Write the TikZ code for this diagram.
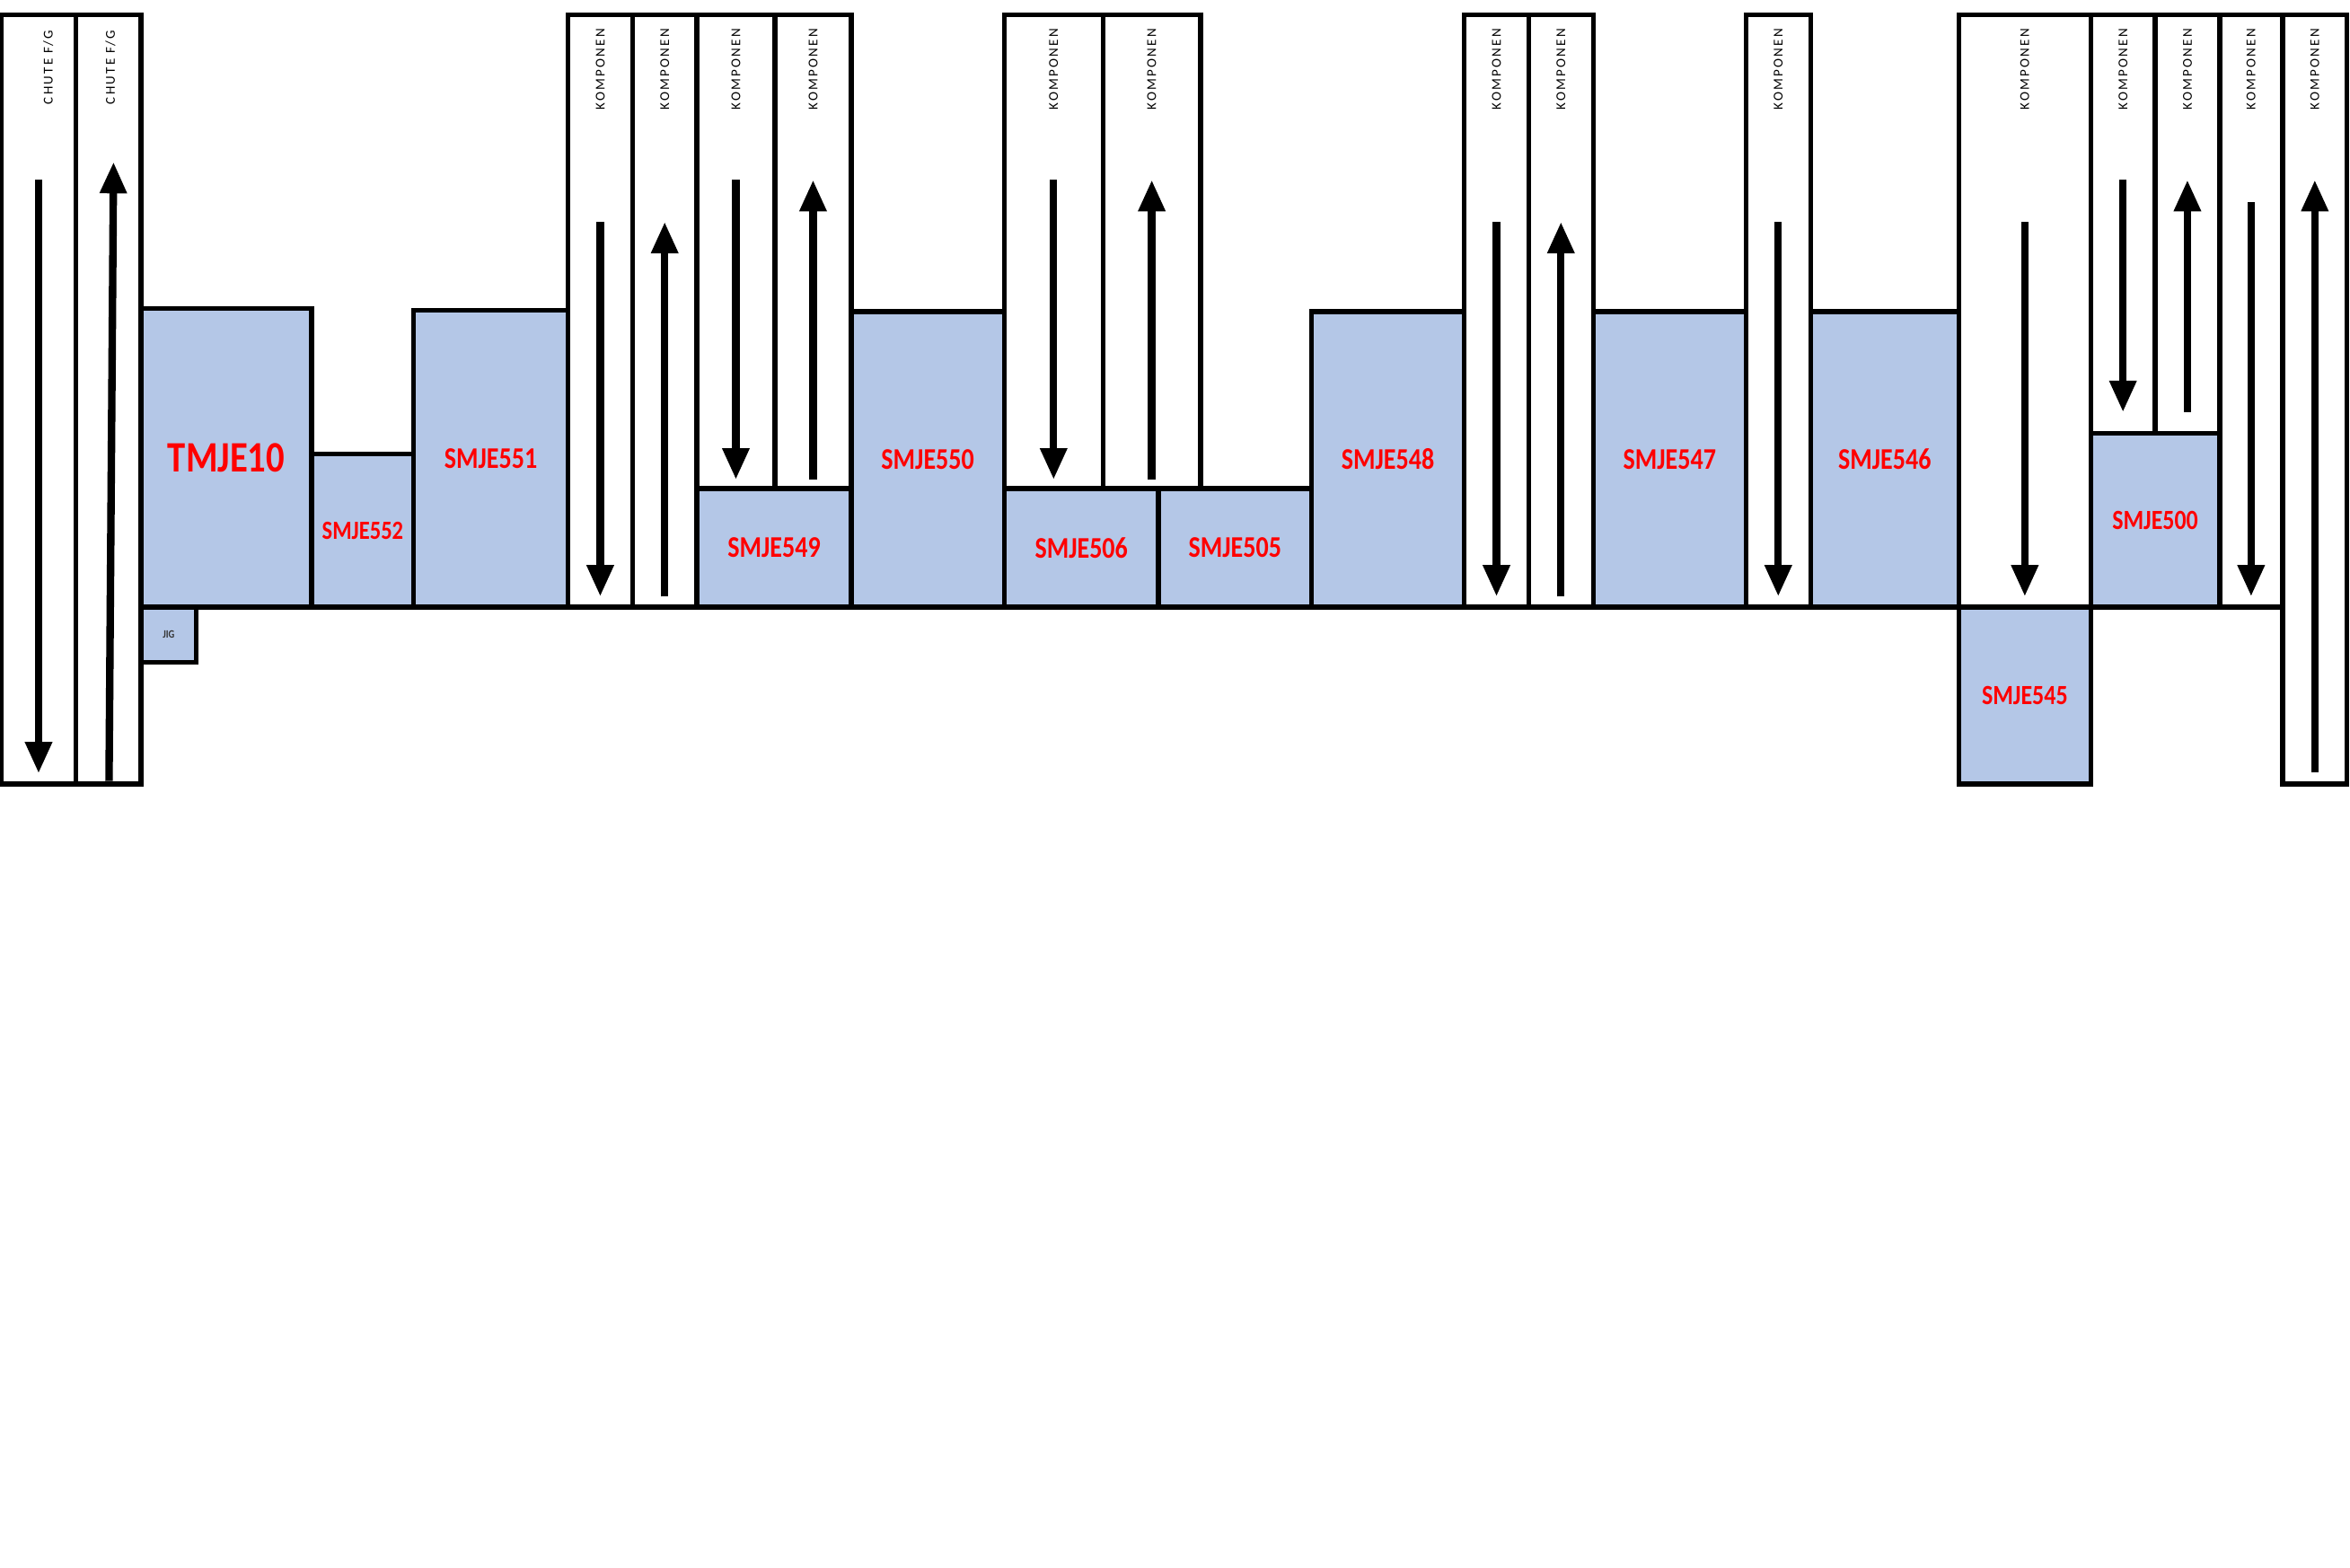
\documentclass[tikz,border=0pt]{standalone}
\usepackage{fontspec}
\setmainfont{Carlito}
\newfontfamily\lblfont[FakeStretch=0.84]{Carlito}
\newfontfamily\tagfont[LetterSpace=15]{Carlito}
\usetikzlibrary{arrows.meta}
\definecolor{stblue}{HTML}{B4C7E7}

\begin{document}
\begin{tikzpicture}[
    x=1pt,y=-1pt,
    lane/.style={draw,fill=white,line width=3.2pt,inner sep=0pt,outer sep=0pt,
                 anchor=north west},
    station/.style={lane,fill=stblue,text=red,
                    font=\lblfont\bfseries\fontsize{20}{20}\selectfont},
    smallst/.style={font=\lblfont\bfseries\fontsize{17.5}{17.5}\selectfont},
    tag/.style={rotate=90,anchor=east,inner sep=0pt,
                font=\tagfont\fontsize{9}{9}\selectfont},
    flow/.style={-{Triangle[length=21pt,width=17pt]},line width=5pt},
]
\useasboundingbox (0,0) rectangle (1568,1046);

% ---- chutes (left edge) ----
\node[lane,minimum width=49.5pt,minimum height=513pt] (ch1) at (1,10) {};
\node[lane,minimum width=43.5pt,minimum height=513pt] (ch2) at (50.5,10) {};
\node[tag] (tc1) at ([xshift=6.5pt,yshift=-10pt]ch1.north) {CHUTE F/G};
\node[tag] (tc2) at ([xshift=1.5pt,yshift=-10pt]ch2.north) {CHUTE F/G};
\draw[flow] ([yshift=-110pt]ch1.north) -- ([yshift=7pt]ch1.south);
\draw[flow] ([xshift=0.5pt,yshift=2pt]ch2.south) -- ([xshift=3.5pt,yshift=-98pt]ch2.north);

% ---- stations, left part ----
\node[station,font=\lblfont\bfseries\fontsize{29}{29}\selectfont,
      minimum width=114pt,minimum height=199pt] (tm10) at (94,206) {TMJE10};
\node[station,text=black!80,font=\lblfont\bfseries\fontsize{7.5}{7.5}\selectfont,
      minimum width=37pt,minimum height=37pt] (jig) at (94,405) {JIG};
\node[station,smallst,minimum width=68pt,minimum height=102pt] (s552) at (208,303) {SMJE552};
\node[station,minimum width=103pt,minimum height=198pt] (s551) at (276,207) {SMJE551};

% ---- komponen lanes 1-4 ----
\node[lane,minimum width=43pt,minimum height=395pt] (k1) at (379,10) {};
\node[lane,minimum width=43pt,minimum height=395pt] (k2) at (422,10) {};
\node[lane,minimum width=52pt,minimum height=316pt] (k3) at (465,10) {};
\node[lane,minimum width=51pt,minimum height=316pt] (k4) at (517,10) {};
\draw[flow] ([yshift=-138pt]k1.north) -- ([yshift=7pt]k1.south);
\draw[flow] ([yshift=7pt]k2.south) -- ([yshift=-138pt]k2.north);
\draw[flow] ([yshift=-110pt]k3.north) -- ([yshift=6pt]k3.south);
\draw[flow] ([yshift=6pt]k4.south) -- ([yshift=-110pt]k4.north);

\node[station,minimum width=103pt,minimum height=79pt] (s549) at (465,326) {SMJE549};
\node[station,minimum width=102pt,minimum height=197pt] (s550) at (568,208) {SMJE550};

% ---- komponen lanes 5-6 ----
\node[lane,minimum width=66pt,minimum height=316pt] (k5) at (670,10) {};
\node[lane,minimum width=65pt,minimum height=316pt] (k6) at (736,10) {};
\draw[flow] ([yshift=-110pt]k5.north) -- ([yshift=6pt]k5.south);
\draw[flow] ([yshift=6pt]k6.south) -- ([yshift=-110pt]k6.north);

\node[station,minimum width=103pt,minimum height=79pt] (s506) at (670,326) {SMJE506};
\node[station,minimum width=102pt,minimum height=79pt] (s505) at (773,326) {SMJE505};
\node[station,minimum width=102pt,minimum height=197pt] (s548) at (875,208) {SMJE548};

% ---- komponen lanes 7-9 ----
\node[lane,minimum width=43pt,minimum height=395pt] (k7) at (977,10) {};
\node[lane,minimum width=43pt,minimum height=395pt] (k8) at (1020,10) {};
\draw[flow] ([yshift=-138pt]k7.north) -- ([yshift=7pt]k7.south);
\draw[flow] ([yshift=7pt]k8.south) -- ([yshift=-138pt]k8.north);

\node[station,minimum width=102pt,minimum height=197pt] (s547) at (1063,208) {SMJE547};

\node[lane,minimum width=43pt,minimum height=395pt] (k9) at (1165,10) {};
\draw[flow] ([yshift=-138pt]k9.north) -- ([yshift=7pt]k9.south);

\node[station,minimum width=99pt,minimum height=197pt] (s546) at (1208,208) {SMJE546};

% ---- right part ----
\node[lane,minimum width=88pt,minimum height=395pt] (k10) at (1307,10) {};
\draw[flow] ([yshift=-138pt]k10.north) -- ([yshift=7pt]k10.south);
\node[station,smallst,font=\lblfont\bfseries\fontsize{18.5}{18.5}\selectfont,
      minimum width=88pt,minimum height=118pt] (s545) at (1307,405) {SMJE545};

\node[lane,minimum width=43pt,minimum height=279pt] (k11) at (1395,10) {};
\node[lane,minimum width=43pt,minimum height=279pt] (k12) at (1438,10) {};
\draw[flow] ([yshift=-110pt]k11.north) -- ([yshift=14pt]k11.south);
\draw[flow] ([yshift=14pt]k12.south) -- ([yshift=-110pt]k12.north);
\node[station,font=\lblfont\bfseries\fontsize{18.5}{18.5}\selectfont,
      minimum width=86pt,minimum height=116pt] (s500) at (1395,289) {SMJE500};

\node[lane,minimum width=42pt,minimum height=395pt] (k13) at (1481,10) {};
\draw[flow] ([yshift=-125pt]k13.north) -- ([yshift=7pt]k13.south);
\node[lane,minimum width=43pt,minimum height=513pt] (k14) at (1523,10) {};
\draw[flow] ([yshift=8pt]k14.south) -- ([yshift=-110pt]k14.north);

% ---- lane tags ----
\node[tag] (tk1)  at ([yshift=-9pt]k1.north)  {KOMPONEN};
\node[tag] (tk2)  at ([yshift=-9pt]k2.north)  {KOMPONEN};
\node[tag] (tk3)  at ([yshift=-9pt]k3.north)  {KOMPONEN};
\node[tag] (tk4)  at ([yshift=-9pt]k4.north)  {KOMPONEN};
\node[tag] (tk5)  at ([yshift=-9pt]k5.north)  {KOMPONEN};
\node[tag] (tk6)  at ([yshift=-9pt]k6.north)  {KOMPONEN};
\node[tag] (tk7)  at ([yshift=-9pt]k7.north)  {KOMPONEN};
\node[tag] (tk8)  at ([yshift=-9pt]k8.north)  {KOMPONEN};
\node[tag] (tk9)  at ([yshift=-9pt]k9.north)  {KOMPONEN};
\node[tag] (tk10) at ([yshift=-9pt]k10.north) {KOMPONEN};
\node[tag] (tk11) at ([yshift=-9pt]k11.north) {KOMPONEN};
\node[tag] (tk12) at ([yshift=-9pt]k12.north) {KOMPONEN};
\node[tag] (tk13) at ([yshift=-9pt]k13.north) {KOMPONEN};
\node[tag] (tk14) at ([yshift=-9pt]k14.north) {KOMPONEN};

\end{tikzpicture}
\end{document}
